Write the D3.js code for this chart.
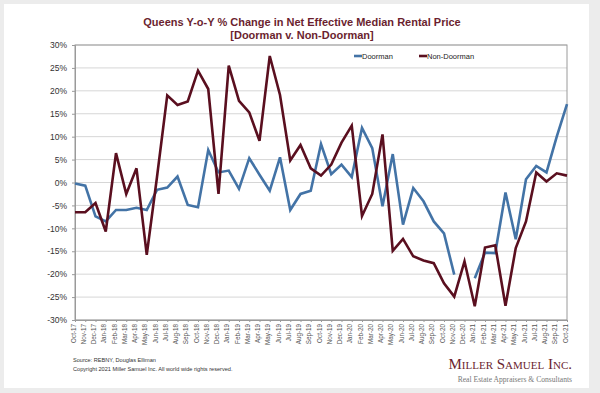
<!DOCTYPE html>
<html>
<head>
<meta charset="utf-8">
<script src="https://cdn.jsdelivr.net/npm/d3@7"></script>
<style>
  body { margin: 0; background: #ececec; }
  svg { display: block; }
</style>
</head>
<body>
<svg id="chart" width="600" height="393"></svg>
<script>
// month labels along the x axis
const months = [
    'Oct-17','Nov-17','Dec-17','Jan-18','Feb-18','Mar-18','Apr-18','May-18','Jun-18','Jul-18','Aug-18','Sep-18',
    'Oct-18','Nov-18','Dec-18','Jan-19','Feb-19','Mar-19','Apr-19','May-19','Jun-19','Jul-19','Aug-19','Sep-19',
    'Oct-19','Nov-19','Dec-19','Jan-20','Feb-20','Mar-20','Apr-20','May-20','Jun-20','Jul-20','Aug-20','Sep-20',
    'Oct-20','Nov-20','Dec-20','Jan-21','Feb-21','Mar-21','Apr-21','May-21','Jun-21','Jul-21','Aug-21','Sep-21',
    'Oct-21'
];

// y-o-y % change, doorman (Dec-20 missing in the source)
const doorman = [
    -0.2, -0.7, -7.4, -8.5, -6.0, -6.0, -5.5, -6.0, -1.6, -1.1, 1.3, -4.9,
    -5.4, 7.1, 2.2, 2.6, -1.4, 5.3, 1.7, -1.8, 5.5, -6.0, -2.5, -1.8,
    8.4, 1.8, 3.9, 1.2, 11.9, 7.5, -5.2, 6.2, -9.2, -1.2, -4.1, -8.5,
    -11.1, -20.1, null, -20.9, -15.3, -15.4, -2.2, -12.4, 0.7, 3.6, 2.2, 10.0,
    17.1
];

// y-o-y % change, non-doorman
const nonDoorman = [
    -6.5, -6.5, -4.5, -10.7, 6.4, -2.5, 3.1, -15.8, 1.2, 19.0, 16.9, 17.7,
    24.4, 20.4, -2.5, 25.5, 17.8, 15.3, 9.1, 27.6, 19.1, 4.8, 8.2, 3.1,
    1.5, 3.9, 8.7, 12.4, -7.3, -2.5, 10.5, -14.9, -12.3, -16.1, -17.0, -17.6,
    -22.0, -24.9, -17.2, -27.0, -14.2, -13.7, -26.9, -14.3, -8.5, 2.2, 0.2, 2.0,
    1.5
];

const yTicks = [30, 25, 20, 15, 10, 5, 0, -5, -10, -15, -20, -25, -30];

const series = [
    { name: 'Doorman', values: doorman, color: '#4373a6' },
    { name: 'Non-Doorman', values: nonDoorman, color: '#5a0f1f' }
];

const svg = d3.select('#chart');
const maroon = '#6b1f2f';

// white card on the grey page
svg.append('rect')
    .attr('x', 4).attr('y', 4)
    .attr('width', 585).attr('height', 384)
    .attr('fill', '#fff');

// plot area bounds
const plotLeft = 75, plotRight = 567, plotTop = 45, plotBottom = 320;

let x = d3.scalePoint()
    .domain(months)
    .range([plotLeft, plotRight]);

let y = d3.scaleLinear()
    .domain([-30, 30])
    .range([plotBottom, plotTop]);

// horizontal gridlines
svg.append('g')
    .selectAll('line')
    .data(yTicks)
    .join('line')
        .attr('x1', plotLeft).attr('x2', plotRight)
        .attr('y1', d => y(d)).attr('y2', d => y(d))
        .attr('stroke', '#d6d6d6')
        .attr('stroke-width', 1);

// plot border
svg.append('rect')
    .attr('x', plotLeft).attr('y', plotTop)
    .attr('width', plotRight - plotLeft).attr('height', plotBottom - plotTop)
    .attr('fill', 'none')
    .attr('stroke', '#9a9a9a')
    .attr('stroke-width', 1);

// y axis labels
let yAxis = svg.append('g')
    .attr('transform', `translate(${plotLeft},0)`)
    .call(d3.axisLeft(y).tickValues(yTicks).tickSize(3).tickPadding(5).tickFormat(d => d + '%'));
yAxis.select('.domain').attr('stroke', '#9a9a9a');
yAxis.selectAll('.tick line').attr('stroke', '#9a9a9a');
yAxis.selectAll('text')
    .attr('font-family', 'Liberation Sans, Arial, sans-serif')
    .attr('font-size', 8.5)
    .attr('fill', '#333');

// x axis with vertical month labels
let xAxis = svg.append('g')
    .attr('transform', `translate(0,${plotBottom})`)
    .call(d3.axisBottom(x).tickSize(2).tickPadding(3));
xAxis.select('.domain').attr('stroke', '#9a9a9a');
xAxis.selectAll('.tick line').attr('stroke', '#9a9a9a');
xAxis.selectAll('text')
    .attr('font-family', 'Liberation Sans, Arial, sans-serif')
    .attr('font-size', 6.3)
    .attr('fill', '#555')
    .attr('text-anchor', 'end')
    .attr('dy', '0.32em')
    .attr('transform', 'rotate(-90) translate(-4,-2)')
    .attr('x', 0).attr('y', 0);

// the two series
const line = d3.line()
    .defined(d => d != null)
    .x((d, i) => x(months[i]))
    .y(d => y(d));

svg.append('g')
    .selectAll('path')
    .data(series)
    .join('path')
        .attr('d', s => line(s.values))
        .attr('fill', 'none')
        .attr('stroke', s => s.color)
        .attr('stroke-width', 2.6)
        .attr('stroke-linejoin', 'miter');

// legend
let legend = svg.append('g')
    .selectAll('g')
    .data(series)
    .join('g')
        .attr('transform', (s, i) => `translate(${354 + i * 65},56)`);
legend.append('line')
    .attr('x1', 0).attr('x2', 8)
    .attr('stroke', s => s.color)
    .attr('stroke-width', 2.6);
legend.append('text')
    .attr('x', 8).attr('dy', '0.35em')
    .attr('font-family', 'Liberation Sans, Arial, sans-serif')
    .attr('font-size', 7.5)
    .attr('fill', '#222')
    .text(s => s.name);

// title
let title = svg.append('text')
    .attr('x', 302).attr('text-anchor', 'middle')
    .attr('font-family', 'Liberation Sans, Arial, sans-serif')
    .attr('font-size', 11)
    .attr('font-weight', 'bold')
    .attr('fill', maroon);
title.append('tspan').attr('x', 302).attr('y', 26)
    .text('Queens Y-o-Y % Change in Net Effective Median Rental Price');
title.append('tspan').attr('x', 302).attr('y', 39)
    .text('[Doorman v. Non-Doorman]');

// footer notes
let notes = svg.append('text')
    .attr('font-family', 'Liberation Sans, Arial, sans-serif')
    .attr('font-size', 5.6)
    .attr('fill', '#333');
notes.append('tspan').attr('x', 73).attr('y', 362).text('Source: REBNY, Douglas Elliman');
notes.append('tspan').attr('x', 73).attr('y', 371).text('Copyright 2021 Miller Samuel Inc.  All world wide rights reserved.');

// logo
svg.append('text')
    .attr('x', 572).attr('y', 369)
    .attr('text-anchor', 'end')
    .attr('font-family', 'Liberation Serif, Times New Roman, serif')
    .attr('font-size', 15)
    .attr('font-variant', 'small-caps')
    .attr('fill', maroon)
    .text('Miller Samuel Inc.');
svg.append('text')
    .attr('x', 572).attr('y', 382)
    .attr('text-anchor', 'end')
    .attr('font-family', 'Liberation Serif, Times New Roman, serif')
    .attr('font-size', 7.6)
    .attr('fill', '#777')
    .text('Real Estate Appraisers & Consultants');
</script>
</body>
</html>
